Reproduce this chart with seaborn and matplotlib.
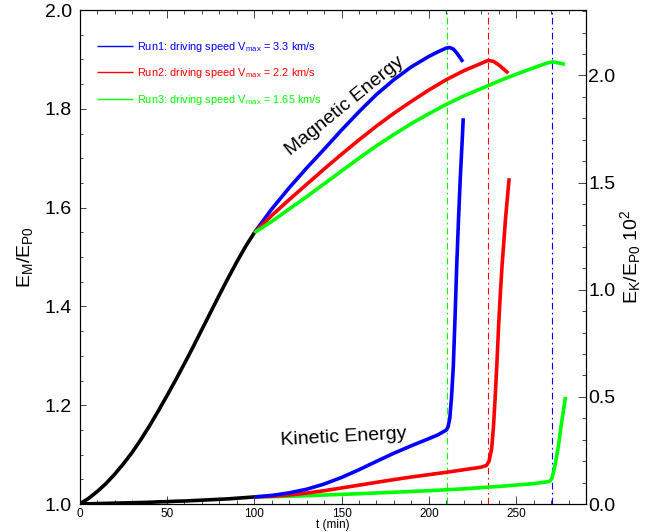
import numpy as np
import pandas as pd
import matplotlib
matplotlib.use("Agg")
import matplotlib.pyplot as plt
from matplotlib.ticker import MultipleLocator, FormatStrFormatter
import seaborn as sns

# ---- data -------------------------------------------------------------
# common driving phase (t <= 100 min), identical for the three runs
t_common = [0, 5, 10, 15, 20, 25, 30, 35, 40, 45, 50, 55, 60, 65, 70, 75, 80, 85, 90, 95, 100]
em_common = [1.000, 1.011, 1.025, 1.041, 1.060, 1.081, 1.104, 1.130, 1.158, 1.188, 1.219,
             1.251, 1.284, 1.318, 1.353, 1.388, 1.423, 1.457, 1.490, 1.521, 1.549]
ek_common = [0.000, 0.001, 0.002, 0.003, 0.004, 0.005, 0.006, 0.007, 0.008, 0.010, 0.011,
             0.013, 0.014, 0.016, 0.018, 0.020, 0.022, 0.024, 0.027, 0.030, 0.033]

# magnetic energy E_M / E_P0 after t = 100 min
t_em1 = [100, 110, 120, 130, 140, 150, 160, 170, 180, 190, 200, 205, 210, 212, 214, 216, 218, 219.5]
em1 = [1.549, 1.597, 1.640, 1.680, 1.718, 1.757, 1.794, 1.829, 1.859, 1.885, 1.906, 1.915,
       1.923, 1.924, 1.921, 1.913, 1.903, 1.895]
t_em2 = [100, 110, 120, 130, 140, 150, 160, 170, 180, 190, 200, 210, 220, 230, 234, 237, 240, 243, 245.5]
em2 = [1.549, 1.584, 1.616, 1.647, 1.678, 1.708, 1.737, 1.765, 1.791, 1.815, 1.838, 1.859,
       1.877, 1.892, 1.898, 1.896, 1.889, 1.880, 1.872]
t_em3 = [100, 110, 120, 130, 140, 150, 160, 170, 180, 190, 200, 210, 220, 230, 240, 250, 260,
         268, 271, 274, 278]
em3 = [1.549, 1.572, 1.597, 1.622, 1.648, 1.674, 1.700, 1.725, 1.748, 1.770, 1.790, 1.809,
       1.826, 1.841, 1.856, 1.870, 1.883, 1.893, 1.895, 1.893, 1.890]

# kinetic energy E_K / E_P0 x 10^2 after t = 100 min
t_ek1 = [100, 110, 120, 130, 140, 150, 160, 170, 180, 190, 200, 205, 210, 211, 212, 213, 214,
         215, 216, 217, 218, 219, 219.7]
ek1 = [0.033, 0.040, 0.052, 0.069, 0.093, 0.124, 0.160, 0.199, 0.237, 0.272, 0.305, 0.322,
       0.345, 0.360, 0.400, 0.500, 0.640, 0.870, 1.120, 1.330, 1.520, 1.680, 1.800]
t_ek2 = [100, 110, 120, 130, 140, 150, 160, 170, 180, 190, 200, 210, 220, 230, 233, 234.5, 236,
         237, 238, 239, 240, 241, 242, 243, 244, 245, 246]
ek2 = [0.033, 0.036, 0.042, 0.051, 0.062, 0.075, 0.088, 0.101, 0.114, 0.126, 0.137, 0.148,
       0.160, 0.172, 0.180, 0.200, 0.260, 0.360, 0.500, 0.660, 0.840, 0.990, 1.120, 1.230,
       1.340, 1.430, 1.520]
t_ek3 = [100, 120, 140, 160, 180, 200, 220, 240, 260, 269, 270.5, 272, 274, 276, 278.3]
ek3 = [0.033, 0.036, 0.042, 0.048, 0.055, 0.062, 0.071, 0.082, 0.095, 0.105, 0.120, 0.170,
       0.260, 0.380, 0.500]

run_labels = [r"Run1: driving speed V$_{\mathregular{max}}$ = 3.3 km/s",
              r"Run2: driving speed V$_{\mathregular{max}}$ = 2.2 km/s",
              r"Run3: driving speed V$_{\mathregular{max}}$ = 1.65 km/s"]
run_colors = ["#0000ff", "#ff0000", "#00ff00"]

# onset times marked with dash-dot lines
onset_times = [210.5, 234.0, 270.8]
onset_colors = ["#00ff00", "#ff0000", "#0000ff"]

# ---- style ------------------------------------------------------------
sns.set_theme(style="ticks", rc={"text.color": "black", "axes.labelcolor": "black",
                                 "xtick.color": "black", "ytick.color": "black",
                                 "axes.edgecolor": "black"})
plt.rcParams["font.family"] = ["Liberation Sans", "DejaVu Sans"]
plt.rcParams["mathtext.fontset"] = "custom"
plt.rcParams["mathtext.rm"] = "Liberation Sans"
plt.rcParams["mathtext.it"] = "Liberation Sans:italic"
plt.rcParams["mathtext.default"] = "regular"
plt.rcParams["axes.linewidth"] = 0.8

fig = plt.figure(figsize=(6.53, 5.32), dpi=100)
ax = fig.add_axes([0.1219, 0.0526, 0.7755, 0.9286])
ax2 = ax.twinx()

LW = 2.6

def draw(axis, t, v, color, label=None):
    df = pd.DataFrame({"t": t, "v": v})
    sns.lineplot(data=df, x="t", y="v", ax=axis, color=color, lw=LW, sort=False,
                 estimator=None, label=label, legend=False, solid_capstyle="butt")

# magnetic energy (left axis)
for t, v, c, lab in zip([t_em1, t_em2, t_em3], [em1, em2, em3], run_colors, run_labels):
    draw(ax, t, v, c, lab)
draw(ax, t_common, em_common, "black")

# kinetic energy (right axis)
for t, v, c in zip([t_ek3, t_ek2, t_ek1], [ek3, ek2, ek1], run_colors[::-1]):
    draw(ax2, t, v, c)
draw(ax2, t_common, ek_common, "black")

for x, c in zip(onset_times, onset_colors):
    ax.axvline(x, color=c, lw=0.8, dashes=(6, 3, 1.5, 3), zorder=1)

# ---- axes -------------------------------------------------------------
ax.set_xlim(0, 290)
ax.set_ylim(1.0, 2.0)
ax2.set_ylim(0.0, 2.305)

ax.xaxis.set_major_locator(MultipleLocator(50))
ax.xaxis.set_minor_locator(MultipleLocator(10))
ax.yaxis.set_major_locator(MultipleLocator(0.2))
ax.yaxis.set_minor_locator(MultipleLocator(0.05))
ax.yaxis.set_major_formatter(FormatStrFormatter("%.1f"))
ax2.yaxis.set_major_locator(MultipleLocator(0.5))
ax2.yaxis.set_minor_locator(MultipleLocator(0.1))
ax2.yaxis.set_major_formatter(FormatStrFormatter("%.1f"))

ax.tick_params(axis="x", which="both", direction="in", top=True, bottom=True,
               labelsize=8.5, pad=3, width=0.7, color="#444444")
ax.tick_params(axis="x", which="major", length=6)
ax.tick_params(axis="x", which="minor", length=3)
ax.tick_params(axis="y", which="both", direction="in", left=True, right=False,
               labelsize=14, pad=5.5, width=0.7, color="#444444")
ax.tick_params(axis="y", which="major", length=4.5)
ax.tick_params(axis="y", which="minor", length=2.5)
ax2.tick_params(axis="y", which="both", direction="in", right=True, left=False,
                labelsize=14, pad=1.5, width=0.7, color="#444444")
ax2.tick_params(axis="y", which="major", length=6)
ax2.tick_params(axis="y", which="minor", length=3)

for a in (ax, ax2):
    for s in a.spines.values():
        s.set_visible(True)
        s.set_linewidth(0.8)

ax.set_xlabel("t (min)", fontsize=8.5, labelpad=-0.5)
ax.set_ylabel(r"E$_{\mathregular{M}}$/E$_{\mathregular{P0}}$", fontsize=14)
ax.yaxis.set_label_coords(-0.088, 0.5)
ax2.set_ylabel(r"E$_{\mathregular{K}}$/E$_{\mathregular{P0}}$ 10$^{2}$", fontsize=14)
ax2.yaxis.set_label_coords(1.063, 0.5)

# annotations
ax.text(152, 1.806, "Magnetic Energy", fontsize=14, rotation=39, ha="center", va="center")
ax.text(151, 1.136, "Kinetic Energy", fontsize=14, rotation=3, ha="center", va="center")

leg = ax.legend(loc="upper left", bbox_to_anchor=(0.034, 0.94), frameon=False,
                fontsize=7.9, handlelength=3.3, handletextpad=0.4, labelspacing=1.15,
                borderaxespad=0.0, borderpad=0.0)
for line in leg.get_lines():
    line.set_linewidth(1.0)
for txt, c in zip(leg.get_texts(), run_colors):
    txt.set_color(c)

fig.savefig("out.png", dpi=100)
